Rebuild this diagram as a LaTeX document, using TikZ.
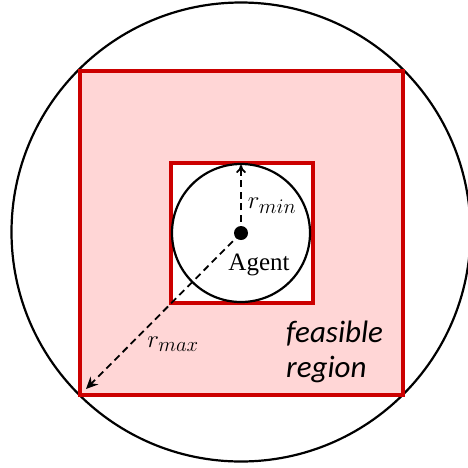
\documentclass[tikz,border=0pt]{standalone}
\usepackage{fontspec}
\setmainfont{Liberation Serif}
\newfontfamily\calib{Carlito}
\usetikzlibrary{arrows.meta}
\definecolor{regred}{RGB}{204,0,0}
\definecolor{regfill}{RGB}{255,214,214}
\begin{document}
\begin{tikzpicture}[x=1pt,y=-1pt,
  sqbox/.style={draw=regred,line width=4pt},
  ring/.style={draw=black,line width=2.2pt},
  radius line/.style={line width=1.8pt,dash pattern=on 7pt off 4.5pt},
  lbl/.style={inner sep=0pt}]
\useasboundingbox (0,0) rectangle (468,467);
\begin{scope}
\clip (0,0) rectangle (468,467);
\node[ring,circle,minimum size=459pt,inner sep=0pt] (big) at (241,232) {};
\end{scope}
\node[sqbox,fill=regfill,minimum width=323pt,minimum height=324pt,inner sep=0pt] (outer) at (241.5,233) {};
\node[sqbox,fill=white,minimum width=142pt,minimum height=140pt,inner sep=0pt] (inner) at (242,233) {};
\node[ring,circle,minimum size=138pt,inner sep=0pt] (small) at (241,233) {};
\node[fill=black,circle,minimum size=14pt,inner sep=0pt] (agent) at (241,233) {};
\coordinate (top) at (241,165);
\coordinate (corner) at (86,389);
\draw[radius line,-{To[length=8pt,width=10pt]}] (agent.center) -- (top);
\draw[radius line,-{Stealth[length=12pt,width=11pt,inset=4pt]}] (agent.center) -- (corner);
\node[lbl,font=\fontsize{29}{32}\selectfont] (rmin) at (272,206) {$r_{min}$};
\node[lbl,font=\fontsize{29}{32}\selectfont] (rmax) at (173,344) {$r_{max}$};
\node[lbl,anchor=base,font=\fontsize{25}{28}\selectfont] (agentlbl) at (259,270) {Agent};
\node[lbl,anchor=north west,align=left,font=\calib\itshape\fontsize{31}{35}\selectfont] (feas) at (286,321) {feasible\\region};
\end{tikzpicture}
\end{document}
